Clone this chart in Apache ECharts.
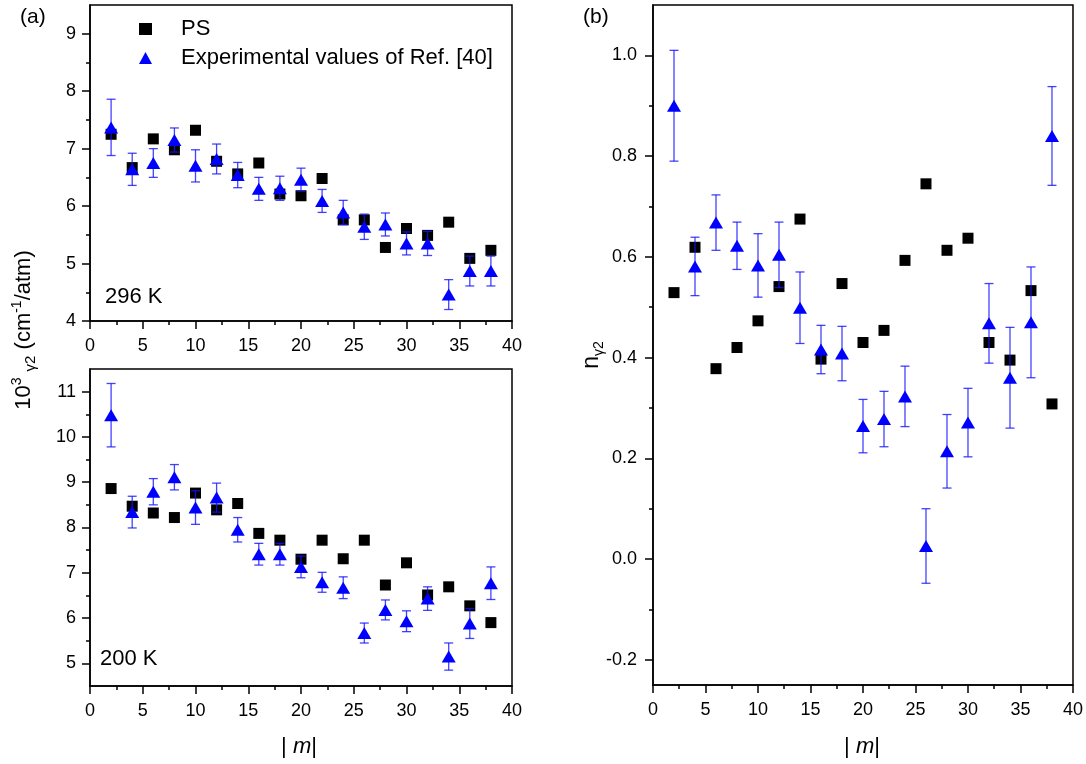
<!DOCTYPE html>
<html>
<head>
<meta charset="utf-8">
<script src="https://cdn.jsdelivr.net/npm/echarts@6/dist/echarts.min.js"></script>
<style>
  html, body { margin: 0; padding: 0; background: #ffffff; }
  #chart { width: 1086px; height: 764px; }
</style>
</head>
<body>
<div id="chart"></div>
<script>
// |m| values shared by all three panels
const mValues = [2, 4, 6, 8, 10, 12, 14, 16, 18, 20, 22, 24, 26, 28, 30, 32, 34, 36, 38];

// 10^3 gamma_2 at 296 K
const ps296  = [7.25, 6.67, 7.17, 6.98, 7.32, 6.78, 6.56, 6.75, 6.21, 6.18, 6.48, 5.76, 5.76, 5.28, 5.61, 5.49, 5.72, 5.09, 5.23];
const exp296 = [7.37, 6.64, 6.75, 7.15, 6.70, 6.82, 6.54, 6.30, 6.31, 6.46, 6.09, 5.89, 5.64, 5.68, 5.35, 5.35, 4.46, 4.87, 4.87];
const err296 = [0.49, 0.28, 0.25, 0.21, 0.28, 0.26, 0.22, 0.20, 0.21, 0.20, 0.20, 0.21, 0.22, 0.20, 0.20, 0.21, 0.26, 0.26, 0.26];

// 10^3 gamma_2 at 200 K
const ps200  = [8.86, 8.47, 8.32, 8.22, 8.76, 8.39, 8.53, 7.87, 7.72, 7.30, 7.72, 7.31, 7.72, 6.73, 7.22, 6.51, 6.69, 6.27, 5.90];
const exp200 = [10.48, 8.34, 8.79, 9.11, 8.44, 8.66, 7.95, 7.41, 7.41, 7.13, 6.79, 6.67, 5.67, 6.18, 5.93, 6.43, 5.15, 5.88, 6.77];
const err200 = [0.70, 0.35, 0.29, 0.28, 0.37, 0.32, 0.27, 0.24, 0.24, 0.24, 0.22, 0.24, 0.22, 0.22, 0.23, 0.26, 0.30, 0.33, 0.36];

// temperature exponent n_gamma2
const psN  = [0.529, 0.619, 0.378, 0.420, 0.473, 0.541, 0.675, 0.397, 0.547, 0.430, 0.454, 0.593, 0.745, 0.613, 0.637, 0.430, 0.395, 0.533, 0.308];
const expN = [0.900, 0.581, 0.668, 0.622, 0.583, 0.604, 0.499, 0.416, 0.408, 0.264, 0.278, 0.323, 0.026, 0.214, 0.271, 0.468, 0.360, 0.470, 0.840];
const errN = [0.110, 0.058, 0.055, 0.047, 0.063, 0.065, 0.071, 0.048, 0.054, 0.053, 0.055, 0.060, 0.074, 0.073, 0.068, 0.079, 0.100, 0.110, 0.098];

// tick positions
const xMajor = [0, 5, 10, 15, 20, 25, 30, 35, 40];
const xMinor = [2.5, 7.5, 12.5, 17.5, 22.5, 27.5, 32.5, 37.5];
const yTopMajor = [4, 5, 6, 7, 8, 9];
const yTopMinor = [4.5, 5.5, 6.5, 7.5, 8.5];
const yBotMajor = [5, 6, 7, 8, 9, 10, 11];
const yBotMinor = [5.5, 6.5, 7.5, 8.5, 9.5, 10.5];
const nMajor = [-0.2, 0.0, 0.2, 0.4, 0.6, 0.8, 1.0];
const nMinor = [-0.1, 0.1, 0.3, 0.5, 0.7, 0.9];

const PS_NAME = 'PS';
const EXP_NAME = 'Experimental values of Ref. [40]';
const FONT = '"Liberation Sans", Arial, sans-serif';
const BLUE = '#0000ff';

const chart = echarts.init(document.getElementById('chart'), null, { renderer: 'canvas' });

// Panel rectangles in pixels
const grids = [
  { left: 90,  top: 5,   width: 422, height: 316 },
  { left: 90,  top: 369, width: 422, height: 317 },
  { left: 653, top: 5,   width: 420, height: 680 }
];

function majorAxis(gridIndex, min, max, ticks, fmt, position, margin) {
  return {
    type: 'value', gridIndex, min, max, position,
    splitLine: { show: false },
    axisLine: { show: true, onZero: false, lineStyle: { color: '#000', width: 1.5 } },
    axisTick: { show: true, inside: false, length: 8, customValues: ticks, lineStyle: { color: '#000', width: 1.5 } },
    axisLabel: {
      show: true, customValues: ticks, margin,
      color: '#000', fontFamily: FONT, fontSize: 18,
      formatter: fmt
    }
  };
}
function minorAxis(gridIndex, min, max, ticks, position) {
  return {
    type: 'value', gridIndex, min, max, position,
    splitLine: { show: false },
    axisLine: { show: false, onZero: false },
    axisTick: { show: true, inside: false, length: 4, customValues: ticks, lineStyle: { color: '#000', width: 1.5 } },
    axisLabel: { show: false }
  };
}

const intFmt = v => String(Math.round(v));
const oneDec = v => (Math.abs(v) < 1e-9 ? 0 : v).toFixed(1);

const xAxes = [], yAxes = [];
const yRanges = [[4, 9.5, yTopMajor, yTopMinor, intFmt, 14], [4.5, 11.5, yBotMajor, yBotMinor, intFmt, 14], [-0.25, 1.1, nMajor, nMinor, oneDec, 16]];
for (let g = 0; g < 3; g++) {
  xAxes.push(majorAxis(g, 0, 40, xMajor, intFmt, 'bottom', 16));
  xAxes.push(minorAxis(g, 0, 40, xMinor, 'bottom'));
  const r = yRanges[g];
  yAxes.push(majorAxis(g, r[0], r[1], r[2], r[4], 'left', r[5]));
  yAxes.push(minorAxis(g, r[0], r[1], r[3], 'left'));
}

// Vertical error bars with caps, placed through the axis scales
function errorBarItem(params, api) {
  const x = api.value(0), y = api.value(1), e = api.value(2);
  const hi = api.coord([x, y + e]);
  const lo = api.coord([x, y - e]);
  const cap = 4.5;
  const style = { stroke: 'rgba(20,20,255,0.8)', lineWidth: 1.3, fill: null };
  return {
    type: 'group',
    children: [
      { type: 'line', shape: { x1: hi[0], y1: hi[1], x2: lo[0], y2: lo[1] }, style },
      { type: 'line', shape: { x1: hi[0] - cap, y1: hi[1], x2: hi[0] + cap, y2: hi[1] }, style },
      { type: 'line', shape: { x1: lo[0] - cap, y1: lo[1], x2: lo[0] + cap, y2: lo[1] }, style }
    ]
  };
}

const panels = [[ps296, exp296, err296], [ps200, exp200, err200], [psN, expN, errN]];
const series = [];
panels.forEach((p, g) => {
  const [ps, ex, er] = p;
  series.push({
    name: PS_NAME, type: 'scatter', xAxisIndex: 2 * g, yAxisIndex: 2 * g,
    symbol: 'rect', symbolSize: 11, z: 2,
    itemStyle: { color: '#000', opacity: 1 },
    data: mValues.map((m, i) => [m, ps[i]])
  });
  series.push({
    name: EXP_NAME + ' error', type: 'custom', xAxisIndex: 2 * g, yAxisIndex: 2 * g, z: 3,
    renderItem: errorBarItem,
    encode: { x: 0, y: 1 },
    data: mValues.map((m, i) => [m, ex[i], er[i]])
  });
  series.push({
    name: EXP_NAME, type: 'scatter', xAxisIndex: 2 * g, yAxisIndex: 2 * g,
    symbol: 'triangle', symbolSize: [14, 12], z: 4,
    itemStyle: { color: BLUE, opacity: 1 },
    data: mValues.map((m, i) => [m, ex[i]])
  });
});

const textBase = { fontFamily: FONT, fill: '#000' };
const mTitle = (x) => ({
  type: 'text', x, y: 747,
  style: Object.assign({
    text: '{a|| }{i|m}{a||}', align: 'center', verticalAlign: 'middle',
    rich: { a: { fontSize: 22, fontFamily: FONT }, i: { fontSize: 22, fontFamily: FONT, fontStyle: 'italic' } }
  }, textBase)
});

const option = {
  animation: false,
  backgroundColor: '#ffffff',
  grid: grids.map(g => Object.assign({ show: true, borderColor: '#000', borderWidth: 1.5, backgroundColor: 'transparent', containLabel: false }, g)),
  xAxis: xAxes,
  yAxis: yAxes,
  legend: {
    orient: 'vertical', left: 134, top: 13, itemGap: 7,
    itemWidth: 13, itemHeight: 12,
    data: [PS_NAME, EXP_NAME],
    selectedMode: false,
    textStyle: { fontFamily: FONT, fontSize: 22, color: '#000', padding: [0, 0, 0, 24] }
  },
  series,
  graphic: [
    { type: 'text', left: 20, top: 7, style: Object.assign({ text: '(a)', fontSize: 21 }, textBase) },
    { type: 'text', left: 583, top: 7, style: Object.assign({ text: '(b)', fontSize: 21 }, textBase) },
    { type: 'text', left: 105, top: 286, style: Object.assign({ text: '296 K', fontSize: 22 }, textBase) },
    { type: 'text', left: 100, top: 648, style: Object.assign({ text: '200 K', fontSize: 22 }, textBase) },
    {
      type: 'text', x: 24, y: 330, rotation: Math.PI / 2,
      style: Object.assign({
        text: '{a|10}{sup|3}{a| }{sub|γ2}{a| (cm}{sup|-1}{a|/atm)}',
        align: 'center', verticalAlign: 'middle',
        rich: {
          a: { fontSize: 22, fontFamily: FONT, lineHeight: 28, verticalAlign: 'middle' },
          sup: { fontSize: 14, fontFamily: FONT, verticalAlign: 'top', lineHeight: 28 },
          sub: { fontSize: 15, fontFamily: FONT, verticalAlign: 'bottom', lineHeight: 22 }
        }
      }, textBase)
    },
    {
      type: 'text', x: 592, y: 355, rotation: Math.PI / 2,
      style: Object.assign({
        text: '{a|n}{sub|γ2}',
        align: 'center', verticalAlign: 'middle',
        rich: {
          a: { fontSize: 23, fontFamily: FONT, lineHeight: 28 },
          sub: { fontSize: 14, fontFamily: FONT, verticalAlign: 'bottom', lineHeight: 20 }
        }
      }, textBase)
    },
    mTitle(299),
    mTitle(862)
  ]
};

chart.setOption(option);
</script>
</body>
</html>
